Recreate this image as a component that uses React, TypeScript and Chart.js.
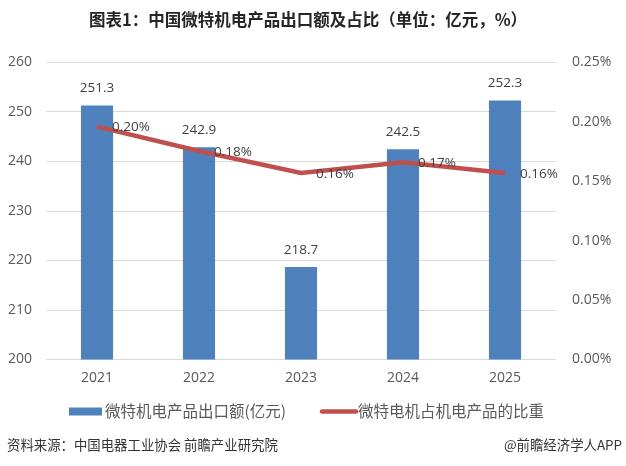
import React, { useEffect, useRef } from "react";
import { Chart, registerables } from "chart.js";

Chart.register(...registerables);

const categories = ["2021", "2022", "2023", "2024", "2025"];
const exportValues = [251.3, 242.9, 218.7, 242.5, 252.3];
const shareValues = [0.196, 0.1755, 0.157, 0.166, 0.157];
const leftTicks = [200, 210, 220, 230, 240, 250, 260];
const rightTicks = [0, 0.05, 0.1, 0.15, 0.2, 0.25];

const titleText = "图表1：中国微特机电产品出口额及占比（单位：亿元，%）";
const barLabel = "微特机电产品出口额(亿元)";
const lineLabel = "微特电机占机电产品的比重";
const sourceText = "资料来源：中国电器工业协会 前瞻产业研究院";
const brandText = "@前瞻经济学人APP";

const BAR_COLOR = "#4F81BD";
const LINE_COLOR = "#C0504D";
const TEXT_COLOR = "#595959";
const NUM_FONT = "'Open Sans', 'Noto Sans', sans-serif";
const CJK_FONT = "'Noto Sans CJK SC', 'Noto Sans', sans-serif";

const decorPlugin = {
  id: "decor",
  afterDatasetsDraw(chart: any) {
    const ctx = chart.ctx;
    ctx.save();
    // bar value labels
    const barMeta = chart.getDatasetMeta(0);
    ctx.font = `13.5px ${NUM_FONT}`;
    ctx.fillStyle = "#404040";
    ctx.textAlign = "center";
    ctx.textBaseline = "middle";
    barMeta.data.forEach((el: any, i: number) => {
      ctx.fillText(exportValues[i].toFixed(1), el.x, el.y - 17);
    });
    // line value labels
    const lineMeta = chart.getDatasetMeta(1);
    ctx.textAlign = "left";
    lineMeta.data.forEach((el: any, i: number) => {
      ctx.fillText(shareValues[i].toFixed(2) + "%", el.x + 15, el.y + 1);
    });
    ctx.restore();
  },
  afterDraw(chart: any) {
    const ctx = chart.ctx;
    const w = chart.width;
    ctx.save();
    // title
    ctx.font = `bold 16.5px ${CJK_FONT}`;
    ctx.fillStyle = "#262626";
    ctx.textAlign = "center";
    ctx.textBaseline = "middle";
    ctx.fillText(titleText, 308, 19.5);

    // legend
    const ly = 411.5;
    ctx.fillStyle = BAR_COLOR;
    ctx.fillRect(69, ly - 4, 33, 8);
    ctx.font = `15.5px ${CJK_FONT}`;
    ctx.fillStyle = TEXT_COLOR;
    ctx.textAlign = "left";
    ctx.fillText(barLabel, 105, ly);

    ctx.strokeStyle = LINE_COLOR;
    ctx.lineWidth = 4.5;
    ctx.lineCap = "round";
    ctx.beginPath();
    ctx.moveTo(322, ly);
    ctx.lineTo(356, ly);
    ctx.stroke();
    ctx.fillText(lineLabel, 358, ly);

    // source
    ctx.font = `13.4px ${CJK_FONT}`;
    ctx.fillStyle = "#333333";
    ctx.textAlign = "left";
    ctx.fillText(sourceText, 7, 445);
    ctx.textAlign = "right";
    ctx.fillText(brandText, w - 4, 445);
    ctx.restore();
  },
};

export default function App() {
  const ref = useRef<HTMLCanvasElement | null>(null);

  useEffect(() => {
    document.body.style.margin = "0";
    if (!ref.current) return;
    const chart = new Chart(ref.current, {
      type: "bar",
      data: {
        labels: categories,
        datasets: [
          {
            type: "bar",
            label: barLabel,
            data: exportValues,
            backgroundColor: BAR_COLOR,
            borderWidth: 0,
            yAxisID: "y",
            categoryPercentage: 1,
            barPercentage: 0.315,
            order: 2,
          },
          {
            type: "line",
            label: lineLabel,
            data: shareValues,
            borderColor: LINE_COLOR,
            backgroundColor: LINE_COLOR,
            borderWidth: 4.5,
            pointRadius: 0,
            tension: 0,
            yAxisID: "y1",
            order: 1,
          } as any,
        ],
      },
      options: {
        animation: false,
        responsive: true,
        maintainAspectRatio: false,
        layout: { padding: { top: 62.5, bottom: 76.5, left: 0, right: 0 } },
        plugins: {
          legend: { display: false },
          title: { display: false },
          tooltip: { enabled: false },
        },
        scales: {
          x: {
            grid: { display: false, drawTicks: false },
            border: { display: false },
            ticks: {
              color: TEXT_COLOR,
              font: { family: NUM_FONT, size: 14 },
              padding: 10,
            },
            afterFit(scale: any) {
              scale.height = 30;
            },
          },
          y: {
            position: "left",
            min: 200,
            max: 260,
            afterBuildTicks(scale: any) {
              scale.ticks = leftTicks.map((v) => ({ value: v }));
            },
            grid: { color: "#D9D9D9", lineWidth: 1, drawTicks: false },
            border: { display: false },
            ticks: {
              color: TEXT_COLOR,
              font: { family: NUM_FONT, size: 14 },
              padding: 14,
            },
            afterFit(scale: any) {
              scale.width = 46;
            },
          },
          y1: {
            position: "right",
            min: 0,
            max: 0.25,
            afterBuildTicks(scale: any) {
              scale.ticks = rightTicks.map((v) => ({ value: v }));
            },
            grid: { display: false, drawTicks: false },
            border: { display: false },
            ticks: {
              color: TEXT_COLOR,
              font: { family: NUM_FONT, size: 14 },
              padding: 16,
              callback: (v: any) => Number(v).toFixed(2) + "%",
            },
            afterFit(scale: any) {
              scale.width = 70;
            },
          },
        },
      },
      plugins: [decorPlugin],
    });
    return () => chart.destroy();
  }, []);

  return (
    <div style={{ width: 626, height: 466, position: "relative", background: "#fff" }}>
      <canvas ref={ref} />
    </div>
  );
}
